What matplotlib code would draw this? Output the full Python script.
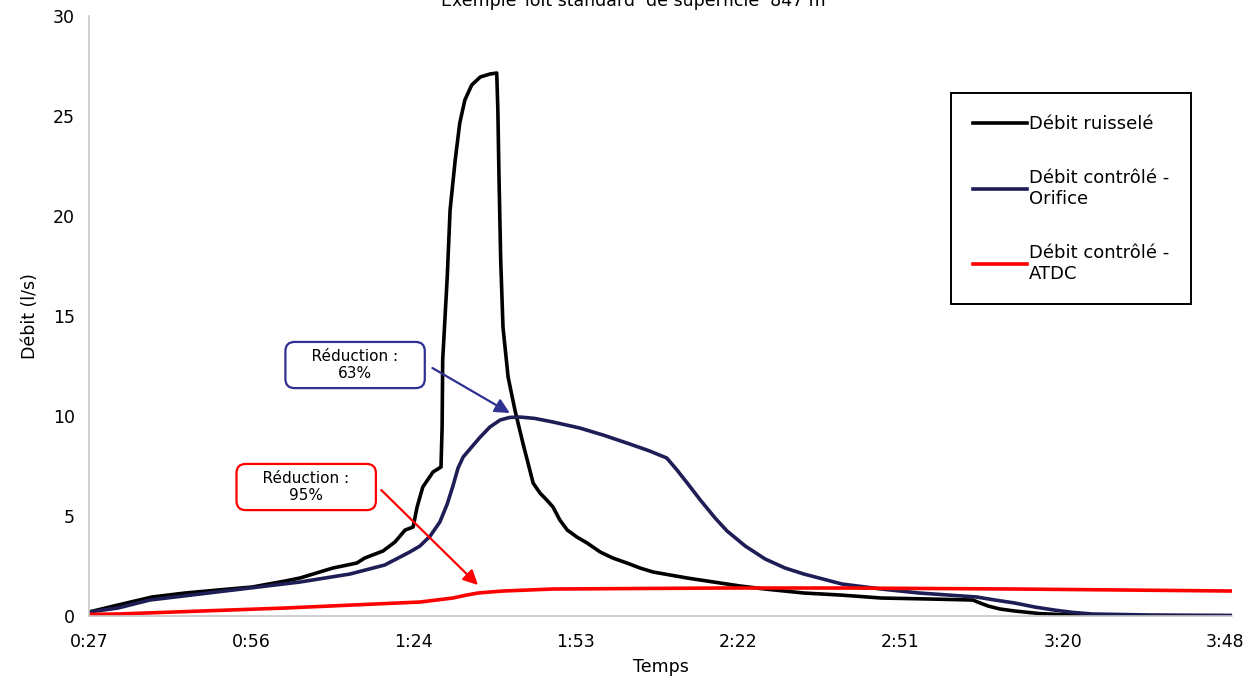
import numpy as np
import matplotlib
matplotlib.use("Agg")
from matplotlib import pyplot as plt

# temps en minutes depuis 0:00, débits en l/s
t_ruisselle = [27, 32.1, 38.1, 43.9, 49.7, 55.7, 61.5, 64.1, 69.9, 74.1, 75.5, 78.7, 80.8, 82.6,
               84.0, 84.7, 85.7, 87.5, 88.9, 89.1, 89.2, 90.0, 90.5, 91.4, 92.2, 93.1, 94.3,
               95.8, 97.5, 98.7, 98.9, 99.1, 99.4, 99.8, 100.7, 101.9, 103.3, 105.1, 106.3,
               107.5, 108.6, 109.8, 111.1, 112.8, 114.6, 116.9, 119.1, 121.6, 123.9, 126.2,
               132.2, 138.0, 141.5, 145.9, 152.7, 159.1, 166.3, 174.9, 182.4, 183.7, 185.1,
               187.2, 189.8, 194.2, 200.0, 210.0, 228.0]
q_ruisselle = [0.2, 0.55, 0.95, 1.15, 1.3, 1.45, 1.75, 1.9, 2.4, 2.65, 2.9, 3.25, 3.7, 4.3,
               4.45, 5.45, 6.45, 7.2, 7.45, 9.45, 12.8, 16.95, 20.3, 22.8, 24.65, 25.8, 26.55,
               26.95, 27.1, 27.15, 25.3, 21.95, 17.8, 14.45, 11.95, 10.3, 8.65, 6.65, 6.15,
               5.8, 5.45, 4.8, 4.3, 3.95, 3.65, 3.2, 2.9, 2.65, 2.4, 2.2,
               1.9, 1.65, 1.5, 1.35, 1.15, 1.05, 0.9, 0.85, 0.8, 0.65, 0.5,
               0.35, 0.25, 0.12, 0.05, 0.02, 0.0]

t_orifice = [27, 32.1, 37.7, 46.5, 55.3, 64.1, 72.9, 79.0, 83.4, 85.2, 87.0, 88.7, 90.0, 91.0,
             91.9, 92.8, 94.0, 95.8, 97.5, 99.3, 101.0, 102.8, 105.4, 108.6, 113.3, 117.4,
             122.1, 125.6, 128.6, 130.4, 132.2, 134.5, 137.1, 139.2, 142.4, 145.9, 149.4,
             152.7, 159.4, 166.3, 173.0, 183.1, 186.3, 189.8, 193.3, 196.7, 200.0, 203.4,
             213.6, 228.0]
q_orifice = [0.2, 0.4, 0.8, 1.1, 1.4, 1.7, 2.1, 2.55, 3.2, 3.5, 4.0, 4.7, 5.6, 6.5,
             7.4, 7.95, 8.35, 8.95, 9.45, 9.8, 9.93, 9.95, 9.88, 9.7, 9.4, 9.05,
             8.6, 8.25, 7.9, 7.3, 6.65, 5.8, 4.9, 4.25, 3.5, 2.85, 2.4,
             2.1, 1.6, 1.35, 1.15, 0.95, 0.8, 0.65, 0.45, 0.3, 0.18, 0.1,
             0.05, 0.03]

t_atdc = [27, 32.1, 61.5, 85.2, 91.0, 93.1, 95.4, 97.5, 99.8, 108.6, 138, 160, 190, 228]
q_atdc = [0.08, 0.1, 0.4, 0.7, 0.9, 1.03, 1.15, 1.2, 1.25, 1.35, 1.4, 1.4, 1.35, 1.25]

x_ticks = [27, 55.54, 84.08, 112.6, 141.2, 169.7, 198.2, 226.8]
x_labels = ["0:27", "0:56", "1:24", "1:53", "2:22", "2:51", "3:20", "3:48"]

plt.rcParams['font.family'] = ['DejaVu Sans']

fig = plt.figure(figsize=(12.58, 6.85), dpi=100)
ax = fig.add_axes([0.0707, 0.1007, 0.9087, 0.8759])

ax.plot(t_ruisselle, q_ruisselle, color="black", lw=2.6, label="Débit ruisselé", solid_joinstyle="round")
ax.plot(t_orifice, q_orifice, color="#1f1d55", lw=2.6, label="Débit contrôlé -\nOrifice", solid_joinstyle="round")
ax.plot(t_atdc, q_atdc, color="#ff0000", lw=2.6, label="Débit contrôlé -\nATDC", solid_joinstyle="round")

ax.set_xlim(27, 228)
ax.set_ylim(0, 30)
ax.set_yticks(range(0, 31, 5))
ax.set_xticks(x_ticks)
ax.set_xticklabels(x_labels)
ax.tick_params(axis="both", length=0, labelsize=12.5)
ax.tick_params(axis="x", pad=12)
ax.tick_params(axis="y", pad=10)
for s in ["top", "right"]:
    ax.spines[s].set_visible(False)
for s in ["left", "bottom"]:
    ax.spines[s].set_color("#c8c8c8")
    ax.spines[s].set_linewidth(1.2)

ax.set_xlabel("Temps", fontsize=12.5, labelpad=5)
ax.set_ylabel("Débit (l/s)", fontsize=12.5, labelpad=10)

fig.text(0.506, 0.999, "Exemple Toit standard  de superficie  847 m²", ha="center", va="center", fontsize=12.5)

leg = ax.legend(loc="upper left", bbox_to_anchor=(0.7465, 0.8865), fontsize=13, handlelength=3.0,
                handletextpad=0.1, labelspacing=2.0, borderpad=1.2, fancybox=False,
                edgecolor="black", framealpha=1)
leg.get_frame().set_linewidth(1.4)

# annotations
bleu = "#2e3192"
ax.text(73.8, 12.55, "    Réduction :    \n63%", ha="center", va="center", fontsize=11,
        multialignment="center",
        bbox=dict(boxstyle="round,pad=0.45,rounding_size=0.6", fc="white", ec=bleu, lw=1.6))
ax.annotate("", xy=(101.0, 10.15), xytext=(87.4, 12.4),
            arrowprops=dict(arrowstyle="-|>", color=bleu, lw=1.6, mutation_scale=22, shrinkA=0, shrinkB=0))

ax.text(65.2, 6.45, "    Réduction :    \n95%", ha="center", va="center", fontsize=11,
        multialignment="center",
        bbox=dict(boxstyle="round,pad=0.45,rounding_size=0.6", fc="white", ec="#ff0000", lw=1.6))
ax.annotate("", xy=(95.4, 1.55), xytext=(78.4, 6.3),
            arrowprops=dict(arrowstyle="-|>", color="#ff0000", lw=1.6, mutation_scale=22, shrinkA=0, shrinkB=0))

fig.savefig("out.png", dpi=100)
